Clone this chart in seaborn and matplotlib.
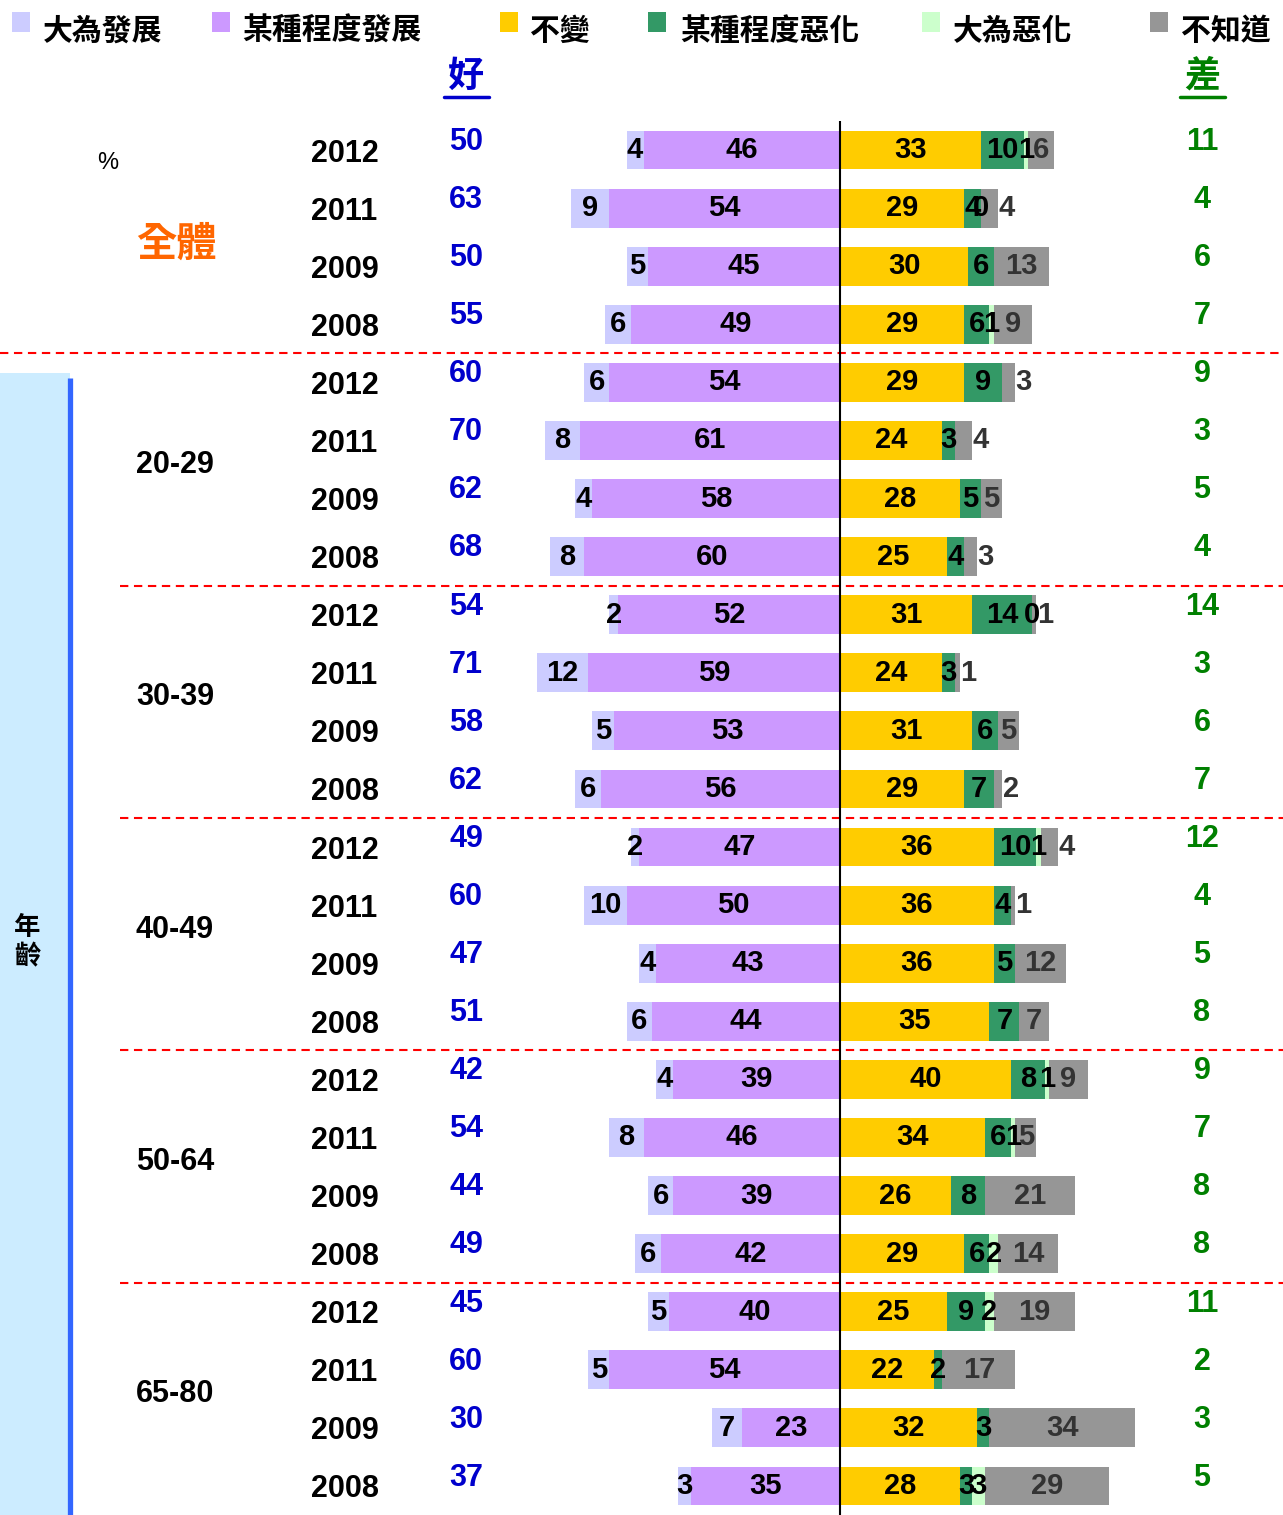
import numpy as np
import pandas as pd
import matplotlib
matplotlib.use("Agg")
import matplotlib.pyplot as plt
from matplotlib.patches import Rectangle
from matplotlib.lines import Line2D
import seaborn as sns

nan = np.nan

groups = ["全體", "20-29", "30-39", "40-49", "50-64", "65-80"]
years = ["2012", "2011", "2009", "2008"]

big_better = [4, 9, 5, 6, 6, 8, 4, 8, 2, 12, 5, 6, 2, 10, 4, 6, 4, 8, 6, 6, 5, 5, 7, 3]
some_better = [46, 54, 45, 49, 54, 61, 58, 60, 52, 59, 53, 56, 47, 50, 43, 44, 39, 46, 39, 42, 40, 54, 23, 35]
unchanged = [33, 29, 30, 29, 29, 24, 28, 25, 31, 24, 31, 29, 36, 36, 36, 35, 40, 34, 26, 29, 25, 22, 32, 28]
some_worse = [10, 4, 6, 6, 9, 3, 5, 4, 14, 3, 6, 7, 10, 4, 5, 7, 8, 6, 8, 6, 9, 2, 3, 3]
big_worse = [1, 0, nan, 1, nan, nan, nan, nan, 0, nan, nan, nan, 1, nan, nan, nan, 1, 1, nan, 2, 2, nan, nan, 3]
dont_know = [6, 4, 13, 9, 3, 4, 5, 3, 1, 1, 5, 2, 4, 1, 12, 7, 9, 5, 21, 14, 19, 17, 34, 29]
good_total = [50, 63, 50, 55, 60, 70, 62, 68, 54, 71, 58, 62, 49, 60, 47, 51, 42, 54, 44, 49, 45, 60, 30, 37]
bad_total = [11, 4, 6, 7, 9, 3, 5, 4, 14, 3, 6, 7, 12, 4, 5, 8, 9, 7, 8, 8, 11, 2, 3, 5]

legend_labels = ["大為發展", "某種程度發展", "不變", "某種程度惡化", "大為惡化", "不知道"]
colors = ["#CCCCFF", "#CC99FF", "#FFCC00", "#339966", "#CCFFCC", "#969696"]

rows = [f"{g} {y}" for g in groups for y in years]
df = pd.DataFrame({"row": rows, "bb": big_better, "sb": some_better, "un": unchanged,
                   "sw": some_worse, "bw": big_worse, "dk": dont_know})
bw0 = df["bw"].fillna(0)

# pixel geometry
W, H = 1283, 1515
S = 4.27          # pixels per percent
X0 = 840          # pixel of zero line
TOP = 121
def px(x):
    return (x - X0) / S
def py(y):
    return (y - 150) / 58.08

sns.set_style("white")
plt.rcParams["font.family"] = ["Liberation Sans", "Noto Sans CJK TC", "DejaVu Sans"]
plt.rcParams["text.color"] = "black"

fig = plt.figure(figsize=(W / 100, H / 100), dpi=100)
ax = fig.add_axes([0, 0, 1, (H - TOP) / H])

# stacked bars via overlapping cumulative bars
layers = [
    (-(df["bb"] + df["sb"]), colors[0]),
    (-df["sb"], colors[1]),
    (df["un"] + df["sw"] + bw0 + df["dk"], colors[5]),
    (df["un"] + df["sw"] + bw0, colors[4]),
    (df["un"] + df["sw"], colors[3]),
    (df["un"], colors[2]),
]
for vals, c in layers:
    sns.barplot(x=vals.values, y=df["row"], order=rows, orient="h", color=c,
                saturation=1, width=0.67, errorbar=None, linewidth=0, ax=ax)

ax.set_xlim(px(0), px(W))
ax.set_ylim(23.5, -0.5)
ax.set_axis_off()

# left band
ax.add_patch(Rectangle((px(0), py(373)), px(70) - px(0), 23.5 - py(373),
                       color="#CCECFF", zorder=0, lw=0))
ax.plot([px(70), px(70)], [py(378), 23.5], color="#3366FF", lw=3.8, solid_capstyle="butt")
ax.text(px(27), py(942), "年\n齡", ha="center", va="center", fontsize=19,
        fontweight="bold", family=["Noto Sans CJK TC"], linespacing=1.15)

# zero line
ax.plot([0, 0], [-0.5, 23.5], color="black", lw=1.5, zorder=5)

# separators
ax.plot([px(0), px(W)], [3.5, 3.5], color="red", lw=1.5, ls=(0, (4, 2.7)))
for k in range(1, 5):
    yy = 3.5 + 4 * k
    ax.plot([px(120), px(W)], [yy, yy], color="red", lw=1.5, ls=(0, (4, 2.7)))

num_kw = dict(ha="center", va="center", fontsize=21, fontweight="bold")
for i, r in df.iterrows():
    ax.text(-(r.sb + r.bb / 2), i, f"{r.bb:g}", **num_kw)
    ax.text(-r.sb / 2, i, f"{r.sb:g}", **num_kw)
    ax.text(r.un / 2, i, f"{r.un:g}", **num_kw)
    ax.text(r.un + r.sw / 2, i, f"{r.sw:g}", **num_kw)
    bw = 0 if np.isnan(r.bw) else r.bw
    if not np.isnan(r.bw):
        ax.text(r.un + r.sw + bw / 2, i, f"{r.bw:g}", **num_kw)
    end = r.un + r.sw + bw + r.dk
    # short "don't know" segments carry their label just past the bar end
    dk_x = end + 2 if r.dk <= 4 else end - r.dk / 2
    ax.text(dk_x, i, f"{r.dk:g}", color="#333333", **num_kw)
    ax.text(px(311), i + 0.06, years[i % 4], ha="left", va="center",
            fontsize=22, fontweight="bold")
    ax.text(px(466), i - 0.14, f"{good_total[i]}", ha="center", va="center",
            fontsize=22, fontweight="bold", color="#0000CC")
    ax.text(px(1202), i - 0.14, f"{bad_total[i]}", ha="center", va="center",
            fontsize=22, fontweight="bold", color="#008000")

# group labels
ax.text(px(176), py(244), groups[0], ha="center", va="center", fontsize=29,
        fontweight="bold", color="#FF6600", family=["Noto Sans CJK TC"])
ax.text(px(108), py(163), "%", ha="center", va="center", fontsize=17)
for g in range(1, 6):
    ax.text(px(175), 4 * g + 1.42, groups[g], ha="center", va="center",
            fontsize=22, fontweight="bold")

# legend on top
sq_x = [12, 212, 500, 648, 922, 1150]
tx_x = [43, 242, 530, 680, 953, 1181]
for c, lab, sx, tx in zip(colors, legend_labels, sq_x, tx_x):
    fig.patches.append(Rectangle((sx / W, 1 - 32 / H), 18 / W, 20 / H,
                                 transform=fig.transFigure, color=c, lw=0))
    fig.text(tx / W, 1 - 31 / H, lab, ha="left", va="center", fontsize=21.5,
             fontweight="bold", family=["Noto Sans CJK TC"])

# 好 / 差 headers
for label, xc, c in [("好", 466, "#0000CC"), ("差", 1202, "#008000")]:
    fig.text(xc / W, 1 - 76 / H, label, ha="center", va="center", fontsize=26,
             fontweight="bold", color=c, family=["Noto Sans CJK TC"])
    fig.add_artist(Line2D([(xc - 22) / W, (xc + 23) / W], [1 - 97 / H] * 2,
                          color=c, lw=2.5, transform=fig.transFigure))

fig.savefig("out.png", dpi=100)
